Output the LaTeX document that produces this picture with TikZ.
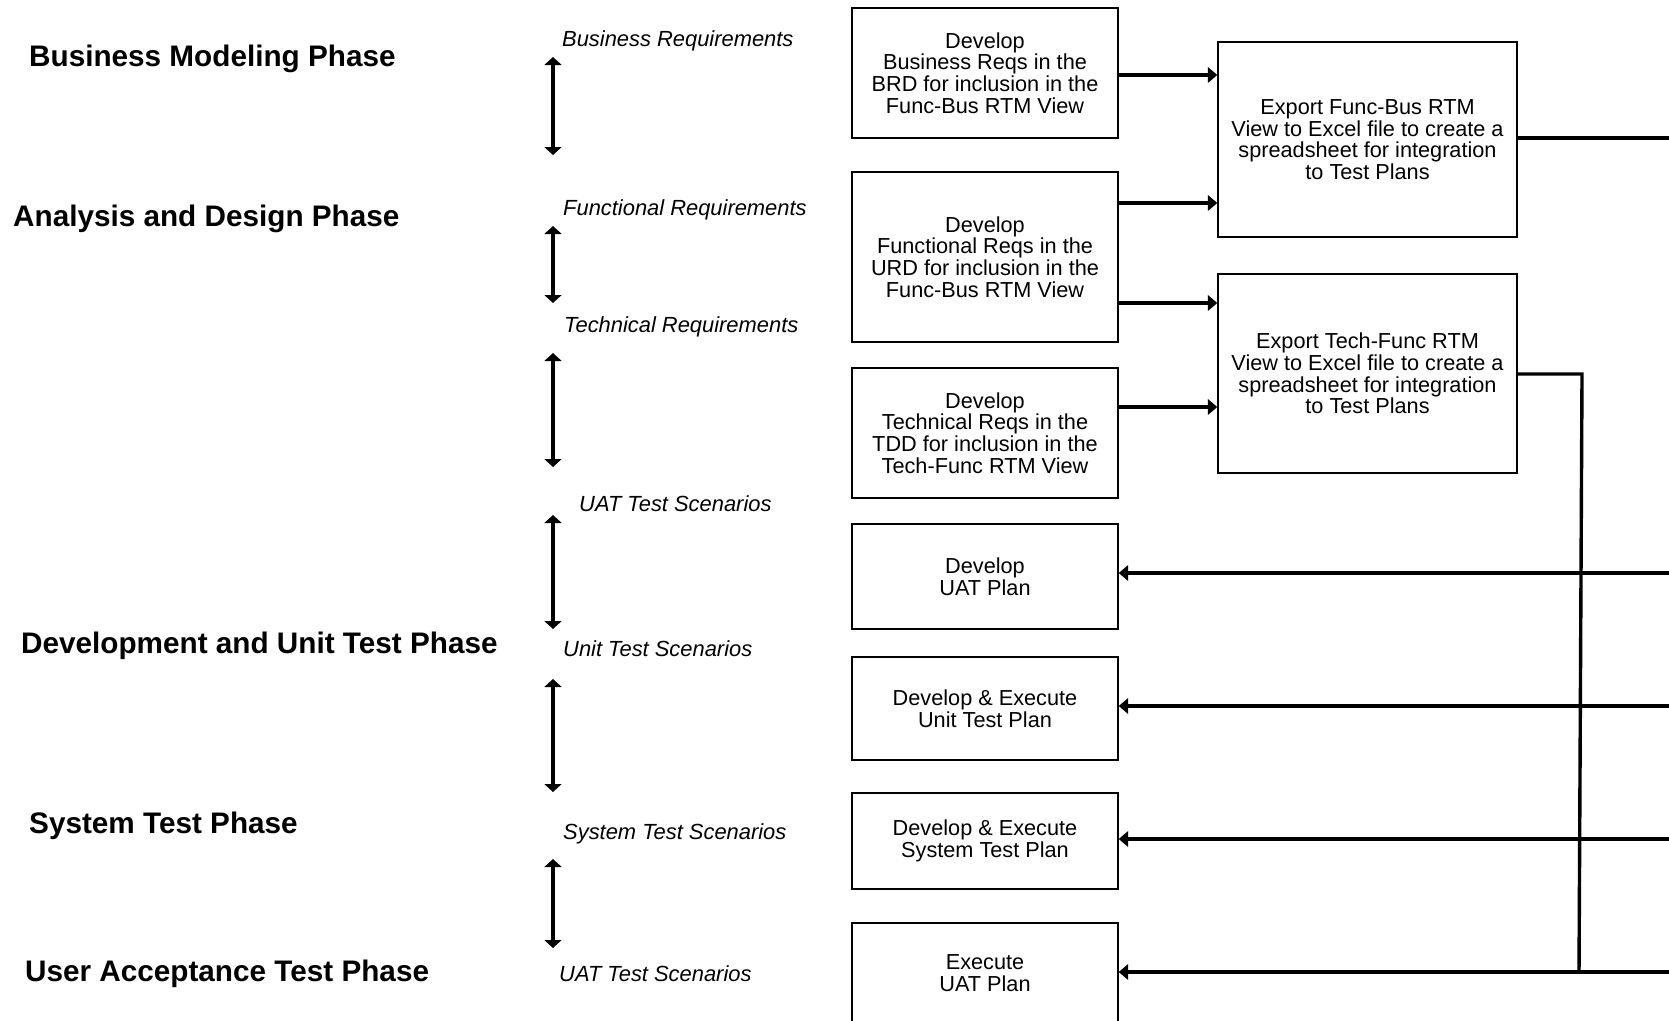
\documentclass[tikz,border=0pt]{standalone}
\usepackage{fontspec}
\setmainfont{Liberation Sans}
\usetikzlibrary{arrows.meta}

\begin{document}
\begin{tikzpicture}[x=1pt,y=-1pt,
  stage/.style={draw, line width=1.4pt, minimum width=266pt, inner sep=0pt,
    align=center, font=\fontsize{21.7}{21.6}\selectfont},
  export/.style={stage, minimum width=299pt},
  phase/.style={anchor=base west, inner sep=0pt,
    font=\bfseries\fontsize{29.7}{32}\selectfont},
  level/.style={anchor=base west, inner sep=0pt,
    font=\itshape\fontsize{21.9}{22}\selectfont},
  conn/.style={line width=3.4pt, -{Triangle[length=9.5pt,width=15.5pt]}},
  wire/.style={line width=3.4pt},
  span/.style={line width=3.6pt, {Triangle[length=8pt,width=17pt]}-{Triangle[length=8pt,width=17pt]}}
]
\fill[white] (0,0) rectangle (1669,1020);
\useasboundingbox (0,0) rectangle (1669,1020);

% phase titles
\node[phase] (pBM) at (29,66)  {Business Modeling Phase};
\node[phase] (pAD) at (13,226) {Analysis and Design Phase};
\node[phase] (pDU) at (21,653) {Development and Unit Test Phase};
\node[phase] (pST) at (29,833) {System Test Phase};
\node[phase] (pUA) at (25,981) {User Acceptance Test Phase};

% artefact levels
\node[level] (lBR) at (562,46)  {Business Requirements};
\node[level] (lFR) at (563,215) {Functional Requirements};
\node[level] (lTR) at (564,332) {Technical Requirements};
\node[level] (lU1) at (579,511) {UAT Test Scenarios};
\node[level] (lUT) at (563,656) {Unit Test Scenarios};
\node[level] (lSY) at (563,839) {System Test Scenarios};
\node[level] (lU2) at (559,981) {UAT Test Scenarios};

% traceability spans between levels
\coordinate (s1a) at (553,57);  \coordinate (s1b) at (553,155);
\coordinate (s2a) at (553,226); \coordinate (s2b) at (553,303);
\coordinate (s3a) at (553,353); \coordinate (s3b) at (553,467);
\coordinate (s4a) at (553,515); \coordinate (s4b) at (553,629);
\coordinate (s5a) at (553,679); \coordinate (s5b) at (553,792);
\coordinate (s6a) at (553,859); \coordinate (s6b) at (553,948);
\foreach \s in {1,...,6} \draw[span] (s\s a) -- (s\s b);

% work products
\node[stage, minimum height=130pt] (b1) at (985,73)
  {Develop\\Business Reqs in the\\BRD for inclusion in the\\Func-Bus RTM View};
\node[stage, minimum height=170pt] (b2) at (985,257)
  {Develop\\Functional Reqs in the\\URD for inclusion in the\\Func-Bus RTM View};
\node[stage, minimum height=130pt] (b3) at (985,433)
  {Develop\\Technical Reqs in the\\TDD for inclusion in the\\Tech-Func RTM View};
\node[stage, minimum height=105pt] (b4) at (985,576.5) {Develop\\UAT Plan};
\node[stage, minimum height=103pt] (b5) at (985,708.5) {Develop \& Execute\\Unit Test Plan};
\node[stage, minimum height=96pt]  (b6) at (985,841)   {Develop \& Execute\\System Test Plan};
\node[stage, minimum height=100pt] (b7) at (985,973)   {Execute\\UAT Plan};

\node[export, minimum height=195pt] (x1) at (1367.5,139.5)
  {Export Func-Bus RTM\\View to Excel file to create a\\spreadsheet for integration\\to Test Plans};
\node[export, minimum height=199pt] (x2) at (1367.5,373.5)
  {Export Tech-Func RTM\\View to Excel file to create a\\spreadsheet for integration\\to Test Plans};

% requirements into the exports
\draw[conn] ([yshift=-2pt]b1.east)  -- ([yshift=64.5pt]x1.west);
\draw[conn] ([yshift=54pt]b2.east)  -- ([yshift=-63.5pt]x1.west);
\draw[conn] ([yshift=-46pt]b2.east) -- ([yshift=70.5pt]x2.west);
\draw[conn] ([yshift=26pt]b3.east)  -- ([yshift=-33.5pt]x2.west);

% exported spreadsheets feeding the test plans
\coordinate (e1) at (1669,138);
\coordinate (k1) at (1582,374);
\coordinate (k2) at (1579,972);
\draw[wire] ([yshift=1.5pt]x1.east) -- (e1);
\draw[wire] ([yshift=-0.5pt]x2.east) -- (k1) -- (k2);

\coordinate (r4) at (1669,573);
\coordinate (r5) at (1669,706);
\coordinate (r6) at (1669,839);
\coordinate (r7) at (1669,972);
\draw[conn] (r4) -- ([yshift=3.5pt]b4.east);
\draw[conn] (r5) -- ([yshift=2.5pt]b5.east);
\draw[conn] (r6) -- ([yshift=2pt]b6.east);
\draw[conn] (r7) -- ([yshift=1pt]b7.east);
\end{tikzpicture}
\end{document}
